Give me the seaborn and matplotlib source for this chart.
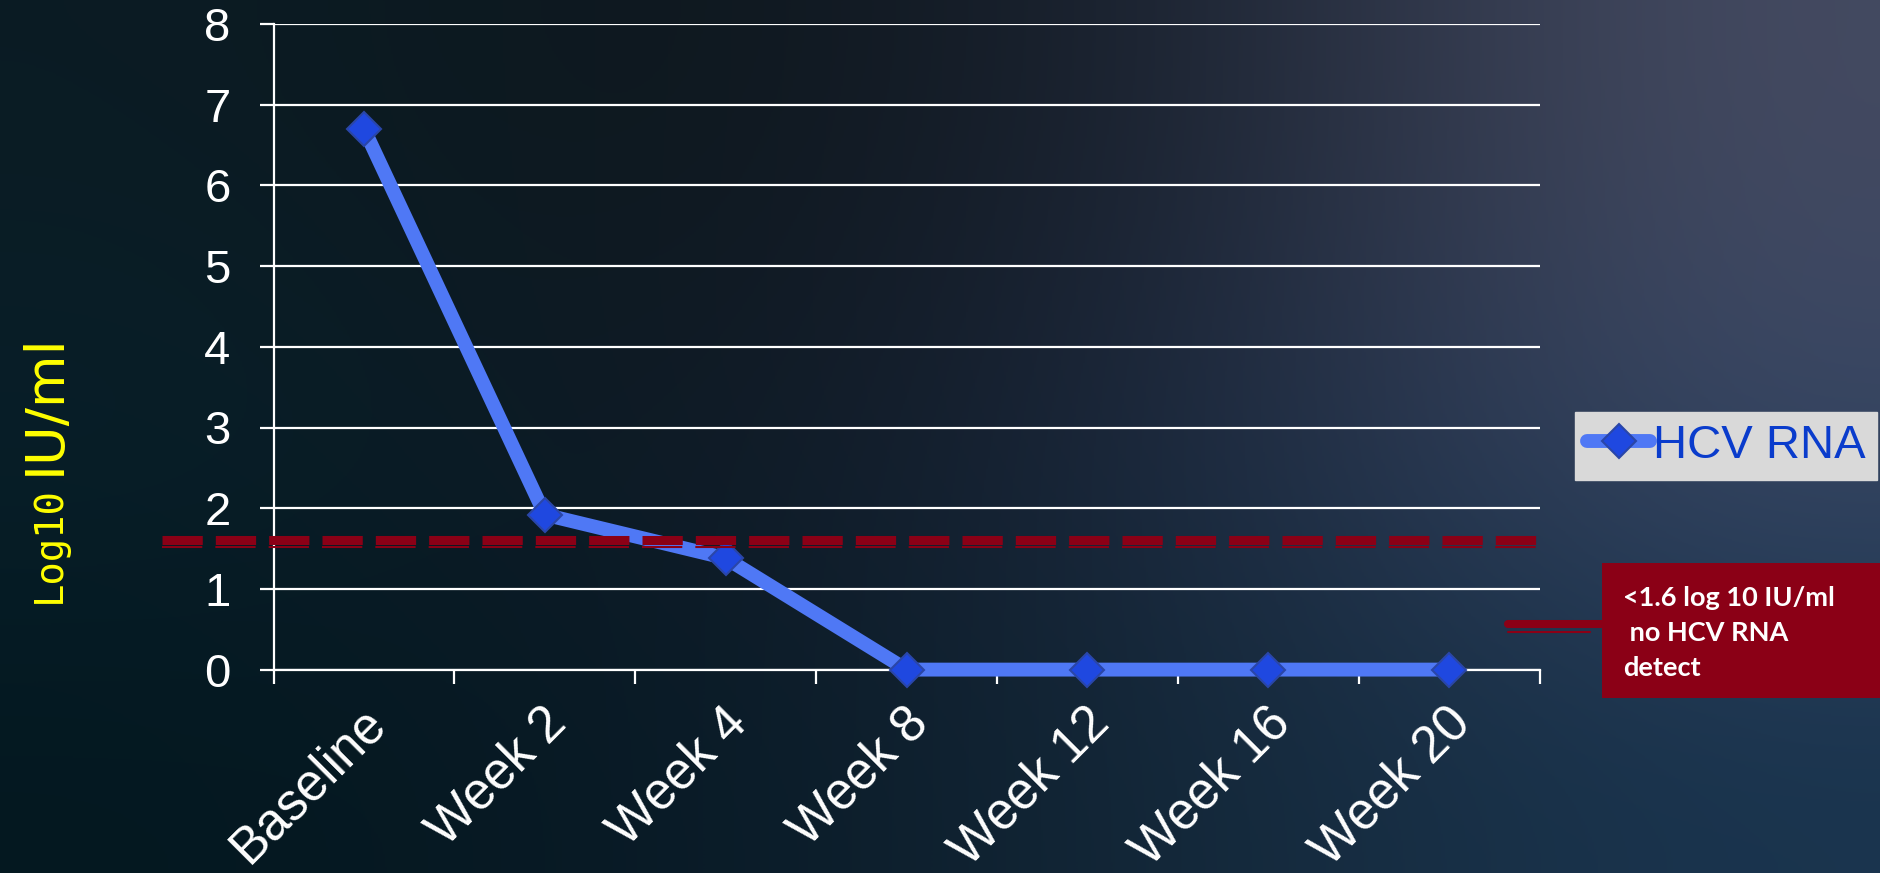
import numpy as np
import pandas as pd
import matplotlib
matplotlib.use("Agg")
import matplotlib.pyplot as plt
import matplotlib.transforms as mtransforms
from matplotlib.patches import Rectangle
from matplotlib.lines import Line2D
import seaborn as sns

# data
timepoints = ['Baseline', 'Week 2', 'Week 4', 'Week 8', 'Week 12', 'Week 16', 'Week 20']
hcv_rna = [6.7, 1.92, 1.38, 0.0, 0.0, 0.0, 0.0]
y_ticks = [0, 1, 2, 3, 4, 5, 6, 7, 8]
threshold = 1.6
note_text = '<1.6 log 10 IU/ml\n no HCV RNA\ndetect'
series_name = 'HCV RNA'

df = pd.DataFrame({'time': timepoints, 'log10': hcv_rna})

sns.set_theme(style='white')
plt.rcParams['font.family'] = ['Liberation Sans', 'DejaVu Sans']

W, H = 1881, 873
fig = plt.figure(figsize=(W / 100, H / 100), dpi=100)

# slide background (dark gradient)
bg_colors = np.array([
    ['#0b1c24', '#0e161c', '#1a2230', '#454b62'],
    ['#07202a', '#101822', '#1b283e', '#394866'],
    ['#041820', '#091a26', '#142839', '#19344e'],
])
bg_rgb = np.array([[matplotlib.colors.to_rgb(c) for c in row] for row in bg_colors])
bg = fig.add_axes([0, 0, 1, 1], zorder=-10)
bg.imshow(bg_rgb, extent=[0, 1, 0, 1], aspect='auto', interpolation='bicubic')
bg.set_axis_off()

ax = fig.add_axes([273.6 / W, 1 - 669.6 / H, 1266 / W, 645.6 / H])
ax.patch.set_alpha(0)

line_color = '#4f78f5'
sns.lineplot(data=df, x='time', y='log10', sort=False, ax=ax, color=line_color,
             linewidth=10, marker='D', markersize=17, markerfacecolor='#1f48e0',
             markeredgecolor='#2a46a8', markeredgewidth=1.5, label=series_name,
             solid_capstyle='round', zorder=3, clip_on=False)

# detection limit dashed line (double stroke)
lw_thick, lw_thin = 6.5, 1.5
dash_on, dash_off = 29, 9.4
ax.plot([-0.088, 0.997], [threshold, threshold], transform=ax.get_yaxis_transform(),
        color='#8b0016', lw=lw_thick, dashes=(dash_on / lw_thick, dash_off / lw_thick),
        clip_on=False, zorder=4)
thin_tr = mtransforms.offset_copy(ax.get_yaxis_transform(), fig=fig, y=-7, units='dots')
ax.plot([-0.088, 0.997], [threshold, threshold], transform=thin_tr,
        color='#8b0016', lw=lw_thin, dashes=(dash_on / lw_thin, dash_off / lw_thin),
        clip_on=False, zorder=4)

ax.set_xlim(-0.5, len(timepoints) - 0.5)
ax.set_ylim(0, 8)
ax.set_yticks(y_ticks)
ax.set_xticks(range(len(timepoints)))
ax.set_xticklabels(timepoints, rotation=45, ha='right', va='center',
                   rotation_mode='anchor')
ax.set_xticks(np.arange(len(timepoints) + 1) - 0.5, minor=True)
ax.set_xlabel('')
ax.set_ylabel('')

ax.grid(axis='y', color='white', linewidth=1.6)
ax.grid(axis='x', visible=False)
for side in ['top', 'right']:
    ax.spines[side].set_visible(False)
for side in ['left', 'bottom']:
    ax.spines[side].set_color('white')
    ax.spines[side].set_linewidth(1.6)

ax.tick_params(axis='y', colors='white', labelsize=34, length=10, width=1.6,
               direction='out', pad=21, left=True)
ax.tick_params(axis='x', which='major', colors='white', labelsize=37, length=0, pad=33)
ax.tick_params(axis='x', which='minor', colors='white', length=10, width=1.6,
               direction='out', bottom=True)
for lab in ax.get_xticklabels():
    lab.set_transform(lab.get_transform() + mtransforms.ScaledTranslation(14 / 100, 0, fig.dpi_scale_trans))

# y label: small mono "Log10" + larger "IU/ml"
fig.text(60 / W, 1 - 603 / H, 'Log10', rotation=90, rotation_mode='anchor',
         ha='left', va='baseline', color='#ffff00', fontsize=28,
         family='DejaVu Sans Mono')
fig.text(60 / W, 1 - 475 / H, 'IU/ml', rotation=90, rotation_mode='anchor',
         ha='left', va='baseline', color='#ffff00', fontsize=39,
         family='DejaVu Sans')

# legend
leg = ax.legend(loc='center', bbox_to_anchor=(1726 / W, 1 - 446 / H),
                bbox_transform=fig.transFigure, fontsize=34, frameon=True,
                fancybox=False, framealpha=1, facecolor='#d9d9d9',
                edgecolor='#d9d9d9', handlelength=1.35, handletextpad=0.05,
                borderpad=0.25, borderaxespad=0)
for t in leg.get_texts():
    t.set_color('#0a3ccc')

# callout box
fig.patches.append(Rectangle((1602 / W, 1 - 698 / H), 1 - 1602 / W, 135 / H,
                             transform=fig.transFigure, facecolor='#8b0016',
                             edgecolor='none', zorder=5))
fig.text(1623 / W, 1 - 633 / H, note_text, ha='left', va='center', color='white',
         fontsize=19.5, fontweight='bold', family='Lato', linespacing=1.55, zorder=6)
fig.lines.append(Line2D([1508 / W, 1604 / W], [1 - 624 / H, 1 - 624 / H],
                        transform=fig.transFigure, color='#8b0016', lw=5.8))
fig.lines.append(Line2D([1508 / W, 1590 / W], [1 - 632 / H, 1 - 632 / H],
                        transform=fig.transFigure, color='#8b0016', lw=1.5))

fig.savefig('out.png', dpi=100)
